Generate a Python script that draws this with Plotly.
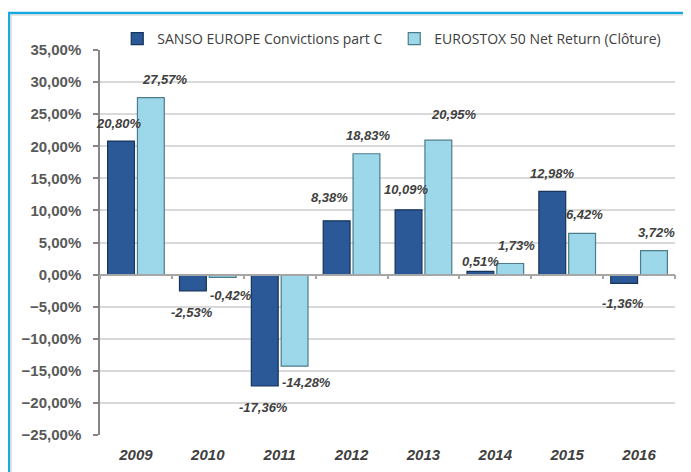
import plotly.graph_objects as go

years = ["2009", "2010", "2011", "2012", "2013", "2014", "2015", "2016"]
sanso = [20.80, -2.53, -17.36, 8.38, 10.09, 0.51, 12.98, -1.36]
eurostox = [27.57, -0.42, -14.28, 18.83, 20.95, 1.73, 6.42, 3.72]
series_names = ["SANSO EUROPE Convictions part C", "EUROSTOX 50 Net Return (Clôture)"]

# label nudges (pixels) relative to category centre / bar end
sanso_dx = [-16.5, -16, -16, -22, -17, -15, -15, -16]
sanso_dy = [17.5, -22, -21.5, 23, 20, 10, 18, -20]
euro_dx = [29, 23, 27, 17, 31, 21, 17, 17]
euro_dy = [18, -18, -16, 18, 25.5, 18, 19, 18]

def fmt(v):
    return f"{v:.2f}".replace(".", ",") + "%"

fig = go.Figure()
fig.add_trace(go.Bar(
    x=years, y=sanso, name=series_names[0],
    marker=dict(color="#2B5896", line=dict(color="#16345C", width=1.2)),
))
fig.add_trace(go.Bar(
    x=years, y=eurostox, name=series_names[1],
    marker=dict(color="#9DD8EA", line=dict(color="#4C7C8A", width=1.2)),
))
# invisible trace to carry the zero-line axis with boundary ticks
fig.add_trace(go.Scatter(x=years, y=[0] * len(years), xaxis="x2", mode="markers",
                         marker=dict(opacity=0), showlegend=False, hoverinfo="skip"))

lab_font = dict(family="Liberation Sans, Arial, sans-serif", size=13, color="#404040",
                weight="bold", style="italic")
for i, y in enumerate(years):
    fig.add_annotation(x=i, y=sanso[i], text=fmt(sanso[i]), showarrow=False,
                       xshift=sanso_dx[i], yshift=sanso_dy[i], font=lab_font,
                       xanchor="center", yanchor="middle")
    fig.add_annotation(x=i, y=eurostox[i], text=fmt(eurostox[i]), showarrow=False,
                       xshift=euro_dx[i], yshift=euro_dy[i], font=lab_font,
                       xanchor="center", yanchor="middle")

# outer frame
fig.add_shape(type="rect", xref="paper", yref="paper",
              x0=-0.1583, x1=1.06, y0=-0.15, y1=1.0961,
              line=dict(color="#19A8E0", width=2.5), layer="below")
fig.add_shape(type="rect", xref="paper", yref="paper",
              x0=-0.1545, x1=1.06, y0=-0.15, y1=1.0909,
              line=dict(color="#D0D0D0", width=1), layer="below")

fig.update_layout(
    width=683, height=464,
    margin=dict(l=92, r=16, t=42, b=37),
    paper_bgcolor="white", plot_bgcolor="white",
    separators=", ",
    barmode="group", bargap=0.17, bargroupgap=0.1,
    showlegend=True,
    legend=dict(orientation="h", x=0.03, y=1.0286, xanchor="left", yanchor="middle",
                font=dict(family="Open Sans, sans-serif", size=14, color="#404040"),
                itemwidth=30, entrywidth=232, entrywidthmode="pixels",
                bgcolor="rgba(0,0,0,0)", traceorder="normal"),
    xaxis=dict(type="category", categoryorder="array", categoryarray=years,
               range=[-0.5, 7.5], automargin=False,
               showline=False, ticks="", showgrid=False, zeroline=False,
               tickfont=dict(family="Liberation Sans, Arial, sans-serif", size=15,
                             color="#404040", weight="bold", style="italic"),
               ticklabelstandoff=9),
    xaxis2=dict(type="category", categoryorder="array", categoryarray=years,
                range=[-0.5, 7.5], overlaying="x", anchor="free", position=25 / 60,
                showline=True, linecolor="#A6A6A6", linewidth=1.5,
                ticks="outside", tickson="boundaries", ticklen=4, tickcolor="#A6A6A6",
                tickwidth=1.5, showticklabels=False, showgrid=False, automargin=False),
    yaxis=dict(range=[-25, 35], dtick=5, tickformat=".2f", ticksuffix="%",
               automargin=False,
               showgrid=True, gridcolor="#D9D9D9", gridwidth=1.5,
               zeroline=False, showline=True, linecolor="#868686", linewidth=1.5,
               ticks="outside", ticklen=5, tickcolor="#868686", tickwidth=1.5,
               tickfont=dict(family="Liberation Sans, Arial, sans-serif", size=15,
                             color="#595959", weight="bold"),
               ticklabelstandoff=9),
)

fig.write_html("out.html")
